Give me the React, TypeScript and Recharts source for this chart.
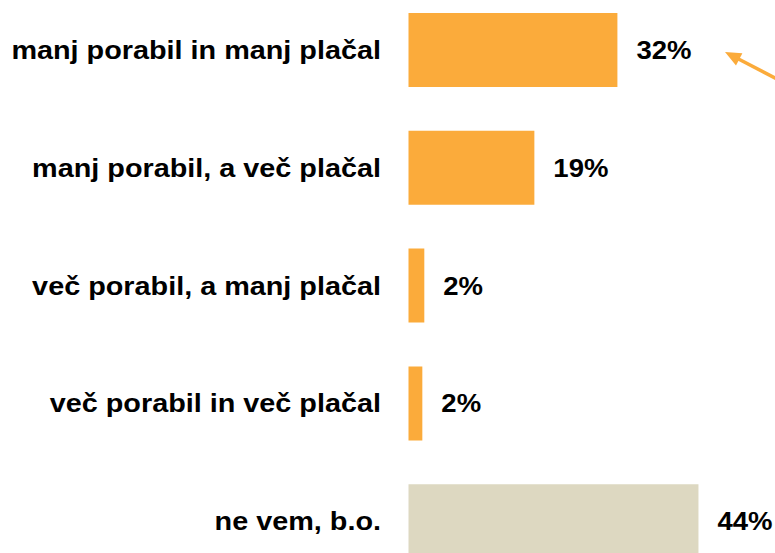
import { BarChart, Bar, XAxis, YAxis, Cell, LabelList } from "recharts";

// answers, top to bottom
const categories = [
  "manj porabil in manj plačal",
  "manj porabil, a več plačal",
  "več porabil, a manj plačal",
  "več porabil in več plačal",
  "ne vem, b.o.",
];
// bar lengths in % (labels are rounded)
const shares = [31.7, 19.1, 2.4, 2.1, 44.0];
const barColors = ["#FBAB3B", "#FBAB3B", "#FBAB3B", "#FBAB3B", "#DDD8C1"];

const FONT = "'Liberation Sans', Arial, Helvetica, sans-serif";

function CategoryTick({ x, y, payload }: { x: number; y: number; payload: { value: string } }) {
  return (
    <g transform={`translate(${x - 19.5},${y + 9}) scale(1.13,1)`}>
      <text x={0} y={0} textAnchor="end" fontFamily={FONT} fontWeight="bold" fontSize={25.5} fill="#000">
        {payload.value}
      </text>
    </g>
  );
}

// eslint-disable-next-line @typescript-eslint/no-explicit-any
function ValueLabel(props: any) {
  const { x, y, width, height, value } = props;
  const tx = x + width + 19;
  const ty = y + height / 2 + 9;
  return (
    <g transform={`translate(${tx},${ty}) scale(1.1,1)`}>
      <text x={0} y={0} fontFamily={FONT} fontWeight="bold" fontSize={25} fill="#000">
        {Math.round(value)}%
      </text>
    </g>
  );
}

export default function App() {
  const data = categories.map((name, i) => ({ name, value: shares[i] }));

  return (
    <div style={{ position: "absolute", top: 0, left: 0, width: 775, height: 553, overflow: "hidden", background: "#fff" }}>
      <div style={{ position: "absolute", top: -9, left: 0 }}>
        <BarChart
          width={775}
          height={589}
          data={data}
          layout="vertical"
          margin={{ top: 0, right: 37, bottom: 0, left: 0 }}
        >
          <XAxis type="number" domain={[0, 50]} hide />
          <YAxis
            type="category"
            dataKey="name"
            width={408.5}
            axisLine={false}
            tickLine={false}
            interval={0}
            // eslint-disable-next-line @typescript-eslint/no-explicit-any
            tick={(p: any) => <CategoryTick x={p.x} y={p.y} payload={p.payload} />}
          />
          <Bar dataKey="value" barSize={74} isAnimationActive={false}>
            {data.map((_, i) => (
              <Cell key={i} fill={barColors[i]} />
            ))}
            <LabelList dataKey="value" content={ValueLabel} />
          </Bar>
        </BarChart>
      </div>
      {/* pointer arrow at the top right */}
      <svg width={775} height={553} style={{ position: "absolute", top: 0, left: 0, pointerEvents: "none" }}>
        <line x1={780} y1={80.6} x2={738} y2={58.8} stroke="#FBAB3B" strokeWidth={3.5} />
        <polygon points="725,52 742.4,53.2 736,65.6" fill="#FBAB3B" />
      </svg>
    </div>
  );
}
